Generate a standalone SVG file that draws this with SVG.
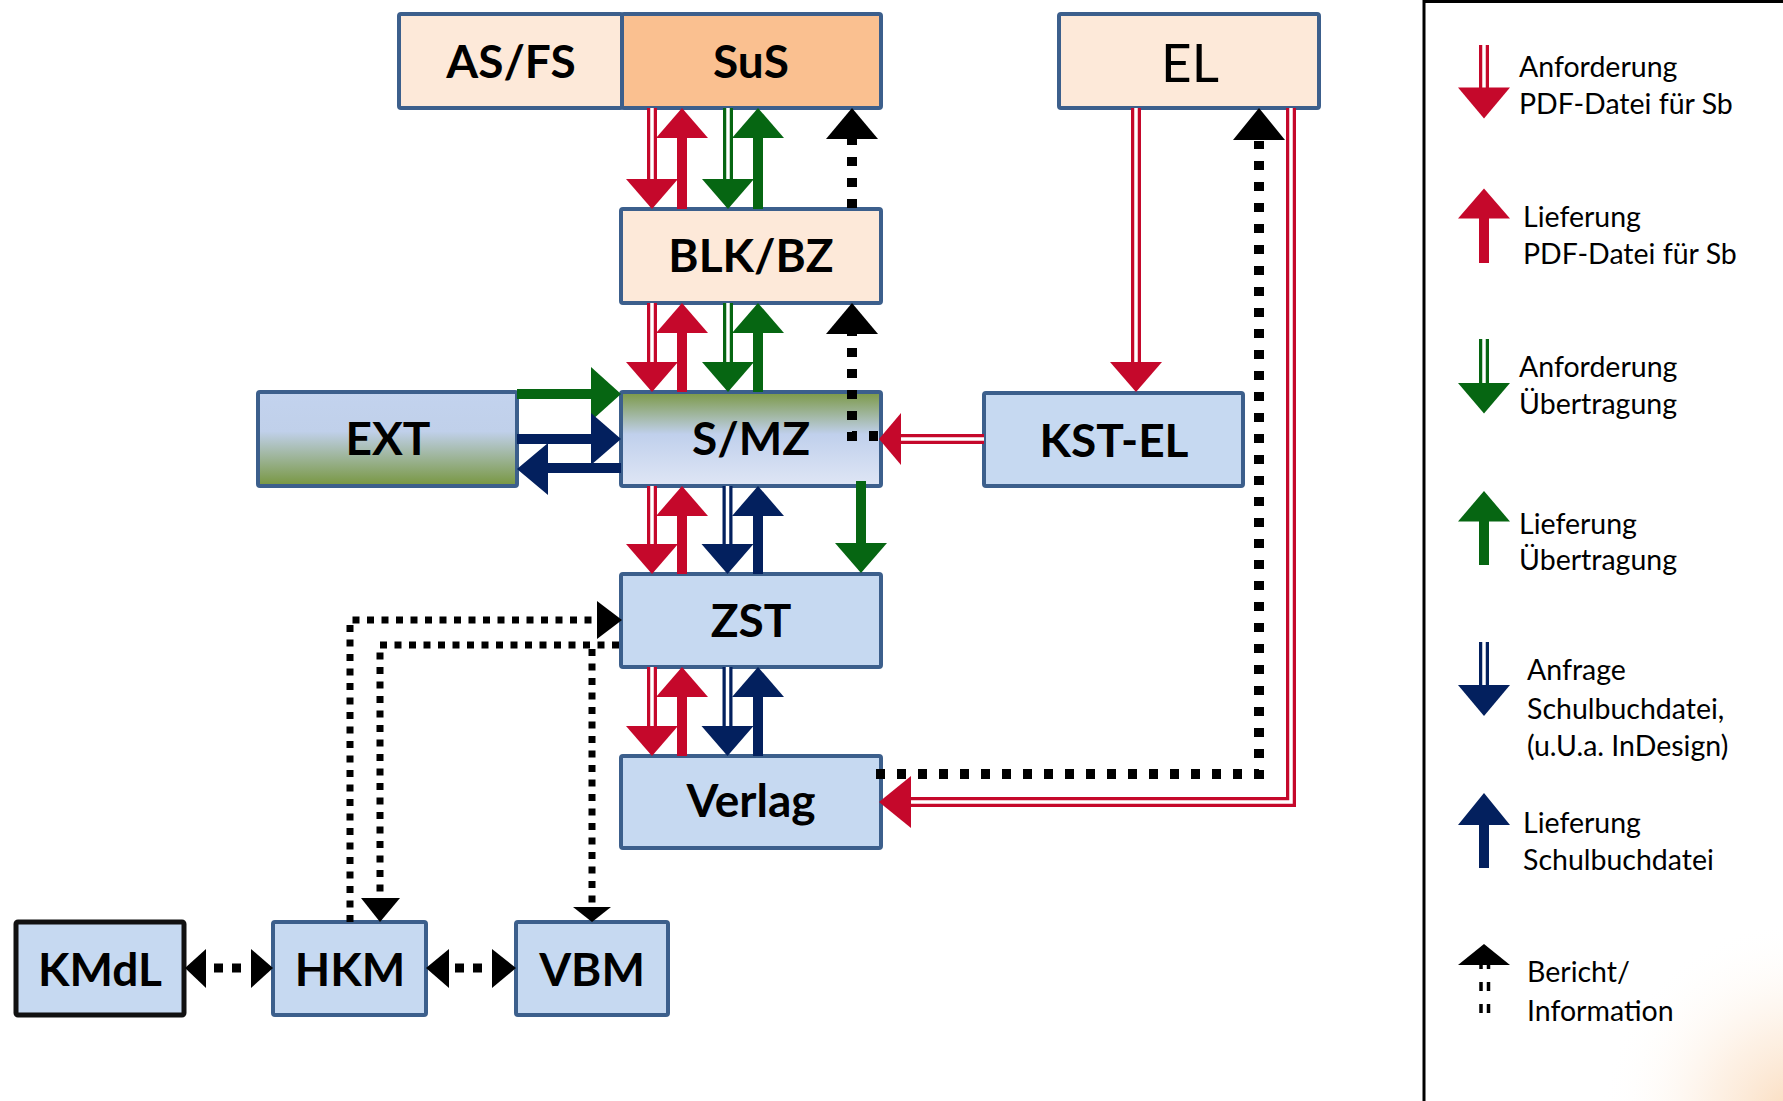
<svg xmlns="http://www.w3.org/2000/svg" width="1783" height="1101" viewBox="0 0 1783 1101">
  <defs>
    <style>
      .box { stroke: #3c5f8c; stroke-width: 4; }
      .peach { fill: #fde9d9; }
      .orange { fill: #fac090; }
      .lightblue { fill: #c6d9f1; }
      .lbl { font-family: Lato, "Liberation Sans", sans-serif; font-weight: bold; font-size: 46px; text-anchor: middle; fill: #000; }
      .lbl-reg { font-family: Lato, "Liberation Sans", sans-serif; font-size: 53px; text-anchor: middle; fill: #000; }
      .leg { font-family: Lato, "Liberation Sans", sans-serif; font-size: 28.5px; fill: #000; }
      .r { fill: #c5082b; }
      .g { fill: #066612; }
      .b { fill: #03205e; }
      .k { fill: #000; }
      .dbl-r { fill: none; stroke: #c5082b; stroke-width: 10; }
      .dbl-g { fill: none; stroke: #066612; stroke-width: 10; }
      .dbl-b { fill: none; stroke: #03205e; stroke-width: 10; }
      .dbl-gap { fill: none; stroke: #fff; stroke-width: 3.5; }
      .dot { fill: none; stroke: #000; stroke-width: 10; stroke-dasharray: 9 12; }
      .dot-thin { fill: none; stroke: #000; stroke-width: 7; stroke-dasharray: 7 7.5; }
      .dot-mid { fill: none; stroke: #000; stroke-width: 9; stroke-dasharray: 9 9; }
    </style>
    <linearGradient id="gradExt" x1="0" y1="0" x2="0" y2="1">
      <stop offset="0" stop-color="#c3d3ee"/>
      <stop offset="0.42" stop-color="#c0d0ea"/>
      <stop offset="1" stop-color="#77963f"/>
    </linearGradient>
    <linearGradient id="gradSmz" x1="0" y1="0" x2="0" y2="1">
      <stop offset="0" stop-color="#7b9845"/>
      <stop offset="0.45" stop-color="#c0d0ec"/>
      <stop offset="1" stop-color="#dfe6f5"/>
    </linearGradient>
    <radialGradient id="cornerGlow" cx="1800" cy="1120" r="200" gradientUnits="userSpaceOnUse">
      <stop offset="0" stop-color="#f8cfa5" stop-opacity="0.8"/>
      <stop offset="0.45" stop-color="#fbe0c6" stop-opacity="0.45"/>
      <stop offset="1" stop-color="#ffffff" stop-opacity="0"/>
    </radialGradient>
  </defs>

  <rect x="0" y="0" width="1783" height="1101" fill="#fff"/>
  <rect x="1580" y="900" width="203" height="201" fill="url(#cornerGlow)"/>

  <!-- Nodes -->
  <g id="node-asfs">
    <rect class="box peach" x="399" y="14" width="223" height="94" rx="2"/>
    <text class="lbl" x="511" y="78">AS/FS</text>
  </g>
  <g id="node-sus">
    <rect class="box orange" x="622" y="14" width="259" height="94" rx="2"/>
    <text class="lbl" x="751" y="78">SuS</text>
  </g>
  <g id="node-el">
    <rect class="box peach" x="1059" y="14" width="260" height="94" rx="2"/>
    <text class="lbl-reg" x="1190" y="82">EL</text>
  </g>
  <g id="node-blk">
    <rect class="box peach" x="621" y="209" width="260" height="94" rx="2"/>
    <text class="lbl" x="751" y="272">BLK/BZ</text>
  </g>
  <g id="node-ext">
    <rect class="box" fill="url(#gradExt)" x="258" y="392" width="259" height="94" rx="2"/>
    <text class="lbl" x="388" y="455">EXT</text>
  </g>
  <g id="node-smz">
    <rect class="box" fill="url(#gradSmz)" x="621" y="392" width="260" height="94" rx="2"/>
    <text class="lbl" x="751" y="455">S/MZ</text>
  </g>
  <g id="node-kstel">
    <rect class="box lightblue" x="984" y="393" width="259" height="93" rx="2"/>
    <text class="lbl" x="1114" y="457">KST-EL</text>
  </g>
  <g id="node-zst">
    <rect class="box lightblue" x="621" y="574" width="260" height="93" rx="2"/>
    <text class="lbl" x="751" y="637">ZST</text>
  </g>
  <g id="node-verlag">
    <rect class="box lightblue" x="621" y="756" width="260" height="92" rx="2"/>
    <text class="lbl" x="751" y="817" font-size="47">Verlag</text>
  </g>
  <g id="node-kmdl">
    <rect class="lightblue" stroke="#111" stroke-width="5" x="16" y="922" width="168" height="93" rx="2"/>
    <text class="lbl" x="100" y="986">KMdL</text>
  </g>
  <g id="node-hkm">
    <rect class="box lightblue" x="273" y="922" width="153" height="93" rx="2"/>
    <text class="lbl" x="350" y="986">HKM</text>
  </g>
  <g id="node-vbm">
    <rect class="box lightblue" x="516" y="922" width="152" height="93" rx="2"/>
    <text class="lbl" x="592" y="986">VBM</text>
  </g>

  <!-- Connectors -->
  <g id="connectors">
    <!-- SuS <-> BLK/BZ -->
    <path class="dbl-r" d="M652,108 V181"/><path class="dbl-gap" d="M652,108 V181"/>
    <polygon class="r" points="626,179 678,179 652,209"/>
    <rect class="r" x="677" y="136" width="10" height="73"/>
    <polygon class="r" points="656,138 708,138 682,108"/>
    <path class="dbl-g" d="M728,108 V181"/><path class="dbl-gap" d="M728,108 V181"/>
    <polygon class="g" points="702,179 754,179 728,209"/>
    <rect class="g" x="753" y="136" width="10" height="73"/>
    <polygon class="g" points="732,138 784,138 758,108"/>
    <path class="dot" d="M852,208 V139"/>
    <polygon class="k" points="826,139 878,139 852,108"/>

    <!-- BLK/BZ <-> S/MZ -->
    <path class="dbl-r" d="M652,303 V364"/><path class="dbl-gap" d="M652,303 V364"/>
    <polygon class="r" points="626,362 678,362 652,392"/>
    <rect class="r" x="677" y="331" width="10" height="61"/>
    <polygon class="r" points="656,333 708,333 682,303"/>
    <path class="dbl-g" d="M728,303 V364"/><path class="dbl-gap" d="M728,303 V364"/>
    <polygon class="g" points="702,362 754,362 728,392"/>
    <rect class="g" x="753" y="331" width="10" height="61"/>
    <polygon class="g" points="732,333 784,333 758,303"/>
    <path class="dot" d="M878,436 H852 V334"/>
    <polygon class="k" points="826,334 878,334 852,303"/>

    <!-- EXT <-> S/MZ -->
    <rect class="g" x="517" y="389" width="76" height="10"/>
    <polygon class="g" points="591,367 591,421 621,394"/>
    <rect class="b" x="517" y="434" width="76" height="10"/>
    <polygon class="b" points="591,413 591,465 621,439"/>
    <rect class="b" x="546" y="463" width="75" height="10"/>
    <polygon class="b" points="548,443 548,495 517,469"/>

    <!-- KST-EL -> S/MZ -->
    <path class="dbl-r" d="M984,439 H899"/><path class="dbl-gap" d="M984,439 H899"/>
    <polygon class="r" points="901,413 901,465 879,439"/>

    <!-- EL -> KST-EL -->
    <path class="dbl-r" d="M1136,108 V364"/><path class="dbl-gap" d="M1136,108 V364"/>
    <polygon class="r" points="1110,362 1162,362 1136,392"/>

    <!-- EL -> Verlag -->
    <path class="dbl-r" d="M1291,108 V802 H909"/><path class="dbl-gap" d="M1291,108 V802 H909"/>
    <polygon class="r" points="911,776 911,828 879,802"/>

    <!-- Verlag -> EL (report) -->
    <path class="dot" d="M876,774 H1259 V141"/>
    <polygon class="k" points="1233,140 1285,140 1259,108"/>

    <!-- S/MZ <-> ZST -->
    <path class="dbl-r" d="M652,486 V546"/><path class="dbl-gap" d="M652,486 V546"/>
    <polygon class="r" points="626,544 678,544 652,574"/>
    <rect class="r" x="677" y="514" width="10" height="60"/>
    <polygon class="r" points="656,516 708,516 682,486"/>
    <path class="dbl-b" d="M727.5,486 V546"/><path class="dbl-gap" d="M727.5,486 V546"/>
    <polygon class="b" points="701.5,544 753.5,544 727.5,574"/>
    <rect class="b" x="753" y="514" width="10" height="60"/>
    <polygon class="b" points="732,516 784,516 758,486"/>
    <rect class="g" x="856" y="481" width="10" height="64"/>
    <polygon class="g" points="835,543 887,543 861,573"/>

    <!-- ZST <-> Verlag -->
    <path class="dbl-r" d="M652,667 V728"/><path class="dbl-gap" d="M652,667 V728"/>
    <polygon class="r" points="626,726 678,726 652,756"/>
    <rect class="r" x="677" y="695" width="10" height="61"/>
    <polygon class="r" points="656,697 708,697 682,667"/>
    <path class="dbl-b" d="M727.5,667 V728"/><path class="dbl-gap" d="M727.5,667 V728"/>
    <polygon class="b" points="701.5,726 753.5,726 727.5,756"/>
    <rect class="b" x="753" y="695" width="10" height="61"/>
    <polygon class="b" points="732,697 784,697 758,667"/>

    <!-- HKM -> ZST, ZST -> HKM, ZST -> VBM -->
    <path class="dot-thin" d="M350,922 V620 H598"/>
    <polygon class="k" points="597,601 597,639 622,620"/>
    <path class="dot-thin" d="M619,645 H380 V899"/>
    <polygon class="k" points="361,898 400,898 380,922"/>
    <path class="dot-thin" d="M592,649 V908"/>
    <polygon class="k" points="573,907 611,907 592,922"/>

    <!-- KMdL <-> HKM <-> VBM -->
    <path class="dot-mid" d="M214,968 H241"/>
    <polygon class="k" points="185,968 206,949 206,988"/>
    <polygon class="k" points="273,968 251,949 251,988"/>
    <path class="dot-mid" d="M455,968 H482"/>
    <polygon class="k" points="426,968 449,949 449,988"/>
    <polygon class="k" points="516,968 492,949 492,988"/>
  </g>

  <!-- Legend -->
  <g id="legend">
    <rect x="1424" y="1.5" width="400" height="1200" fill="none" stroke="#000" stroke-width="3"/>

    <path class="dbl-r" d="M1484,45 V89"/><path class="dbl-gap" d="M1484,45 V89"/>
    <polygon class="r" points="1458,87.5 1510,87.5 1484,118.5"/>
    <text class="leg" x="1519" y="77">Anforderung</text>
    <text class="leg" x="1519" y="114">PDF-Datei für Sb</text>

    <rect class="r" x="1479" y="216" width="10" height="47"/>
    <polygon class="r" points="1458,218.5 1510,218.5 1484,188.5"/>
    <text class="leg" x="1523" y="227">Lieferung</text>
    <text class="leg" x="1523" y="264">PDF-Datei für Sb</text>

    <path class="dbl-g" d="M1484,339 V385"/><path class="dbl-gap" d="M1484,339 V385"/>
    <polygon class="g" points="1458,383 1510,383 1484,413.5"/>
    <text class="leg" x="1519" y="377">Anforderung</text>
    <text class="leg" x="1519" y="414">Übertragung</text>

    <rect class="g" x="1479" y="519" width="10" height="46"/>
    <polygon class="g" points="1458,521.5 1510,521.5 1484,491"/>
    <text class="leg" x="1519" y="534">Lieferung</text>
    <text class="leg" x="1519" y="570">Übertragung</text>

    <path class="dbl-b" d="M1484,642 V687"/><path class="dbl-gap" d="M1484,642 V687"/>
    <polygon class="b" points="1458,685 1510,685 1484,716"/>
    <text class="leg" x="1527" y="680">Anfrage</text>
    <text class="leg" x="1527" y="719">Schulbuchdatei,</text>
    <text class="leg" x="1527" y="756">(u.U.a. InDesign)</text>

    <rect class="b" x="1479" y="823" width="10" height="45"/>
    <polygon class="b" points="1458,825 1510,825 1484,793"/>
    <text class="leg" x="1523" y="833">Lieferung</text>
    <text class="leg" x="1523" y="870">Schulbuchdatei</text>

    <path d="M1481,960 V1013 M1488.5,960 V1013" fill="none" stroke="#000" stroke-width="3.5" stroke-dasharray="9 13"/>
    <rect x="1476" y="963" width="16" height="18" fill="#fff"/>
    <path d="M1481,963 V969 M1488.5,963 V969" fill="none" stroke="#000" stroke-width="3.5"/>
    <polygon class="k" points="1458,965 1510,965 1484,944"/>
    <text class="leg" x="1527" y="982">Bericht/</text>
    <text class="leg" x="1527" y="1021">Information</text>
  </g>
</svg>
